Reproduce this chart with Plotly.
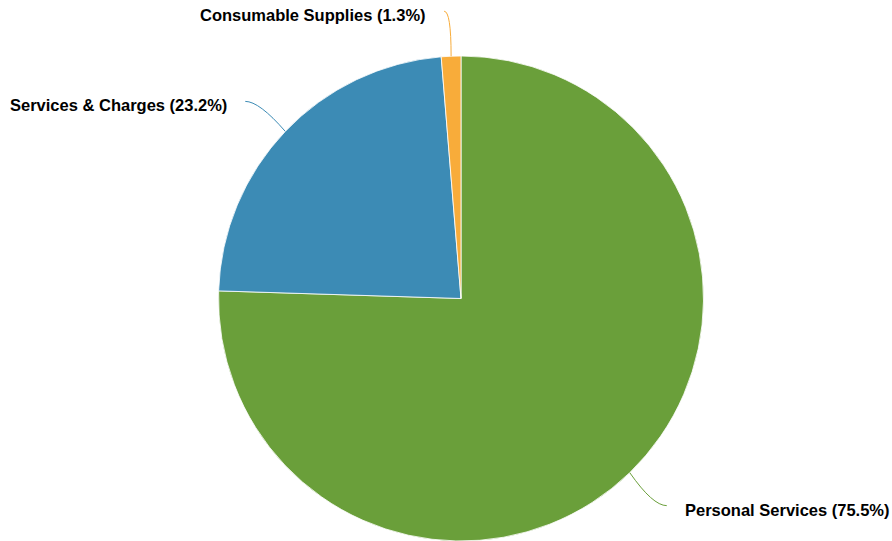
import math
import plotly.graph_objects as go

categories = ["Personal Services", "Services & Charges", "Consumable Supplies"]
values = [75.5, 23.2, 1.3]
colors = ["#6a9f3a", "#3c8bb5", "#f8ac3a"]

W, H = 892, 541
CX, CY, R = 461.0, 298.5, 242.5

# connector geometry per slice (px offsets from edge point to connector end), layout only
conn_end_offset = [(37, 33), (-40, -30), (-7, -45)]
conn_kind = ["diag", "diag", "vert"]
TEXT_GAP = 16

fig = go.Figure()
fig.add_trace(go.Pie(
    labels=categories, values=values, sort=False, direction="clockwise", rotation=0,
    marker=dict(colors=colors, line=dict(color="rgba(255,255,255,0.8)", width=1)),
    textinfo="none", hoverinfo="label+percent", showlegend=False,
    domain=dict(x=[(CX - R) / W, (CX + R) / W], y=[1 - (CY + R) / H, 1 - (CY - R) / H]),
))

def px(x, y):
    return x / W, 1 - y / H

total = sum(values)
cum = 0.0
shapes, annotations = [], []
for i, (cat, v) in enumerate(zip(categories, values)):
    mid = (cum + v / 2) / total * 2 * math.pi
    cum += v
    x0 = CX + R * math.sin(mid)
    y0 = CY - R * math.cos(mid)
    dx, dy = conn_end_offset[i]
    x1, y1 = x0 + dx, y0 + dy
    side = 1 if x1 > CX else -1
    if conn_kind[i] == "vert":
        cx_, cy_ = x0, y1
    else:
        cx_, cy_ = x1 - side * 14, y1
    p0, pc, p1 = px(x0, y0), px(cx_, cy_), px(x1, y1)
    shapes.append(dict(
        type="path", xref="paper", yref="paper",
        path=f"M {p0[0]} {p0[1]} Q {pc[0]} {pc[1]} {p1[0]} {p1[1]}",
        line=dict(color=colors[i], width=1),
    ))
    tx, ty = px(x1 + side * TEXT_GAP, y1 + 4)
    pct = v / total * 100
    annotations.append(dict(
        x=tx, y=ty, xref="paper", yref="paper", showarrow=False,
        xanchor="left" if side > 0 else "right", yanchor="middle",
        text=f"<b>{cat} ({pct:.1f}%)</b>",
        font=dict(family="Liberation Sans, Arial, sans-serif", size=16.5, color="#000000"),
    ))

fig.update_layout(
    width=W, height=H, margin=dict(l=0, r=0, t=0, b=0),
    paper_bgcolor="white", plot_bgcolor="white",
    shapes=shapes, annotations=annotations,
)
fig.write_html("out.html", config={"displayModeBar": False},
               post_script="document.body.style.margin='0';")
